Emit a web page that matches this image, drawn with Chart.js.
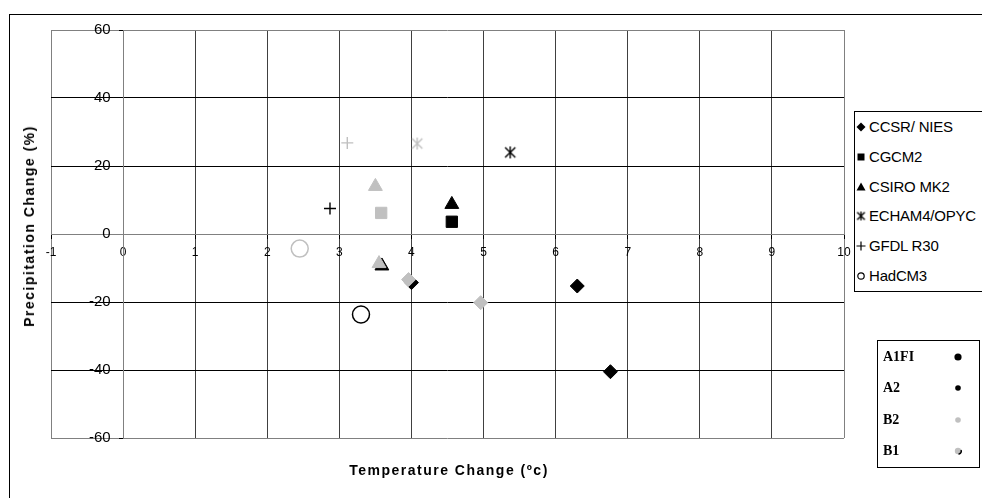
<!DOCTYPE html>
<html>
<head>
<meta charset="utf-8">
<script src="https://cdn.jsdelivr.net/npm/chart.js@4.4.1/dist/chart.umd.min.js"></script>
<style>
  html, body { margin: 0; padding: 0; background: #fff; }
  #wrap { position: relative; width: 982px; height: 498px; overflow: hidden; font-family: 'Liberation Sans', Arial, sans-serif; color: #000; }
  #frame { position: absolute; left: 9px; top: 14px; width: 1100px; height: 600px; border: 1px solid #000; }
  #chart { position: absolute; left: 0; top: 0; }
  #ytitle { position: absolute; left: 29px; top: 226px; transform: translate(-50%, -50%) rotate(-90deg); font-weight: bold; font-size: 14px; letter-spacing: 1.5px; white-space: nowrap; }
  #xtitle { position: absolute; left: 449px; top: 470px; transform: translate(-50%, -50%); font-weight: bold; font-size: 14px; letter-spacing: 1.5px; white-space: nowrap; }
  .box { position: absolute; border: 1px solid #000; background: #fff; }
  #models { left: 854px; top: 111px; width: 200px; height: 179px; }
  #scenarios { left: 877px; top: 340px; width: 101px; height: 126px; }
  .row { position: absolute; height: 18px; line-height: 18px; white-space: nowrap; }
  .row canvas { position: absolute; top: 0; }
  #models .row { font-size: 15px; letter-spacing: -0.2px; }
  #scenarios .row { font-family: 'Liberation Serif', 'Times New Roman', serif; font-size: 14px; font-weight: bold; }
</style>
</head>
<body>
<div id="wrap">
  <div id="frame"></div>
  <canvas id="chart" width="982" height="498"></canvas>
  <div id="ytitle">Precipitation Change (%)</div>
  <div id="xtitle">Temperature Change (ºc)</div>
  <div class="box" id="models"></div>
  <div class="box" id="scenarios"></div>
</div>
<script>
// axis ranges and steps
const xRange = [-1, 10];
const yRange = [-60, 60];
const xStep = 1;
const yStep = 20;

const models = ['CCSR/ NIES', 'CGCM2', 'CSIRO MK2', 'ECHAM4/OPYC', 'GFDL R30', 'HadCM3'];
const scenarios = ['A1FI', 'A2', 'B2', 'B1'];

// [temperature change, precipitation change]
// black = high emission runs, grey = low emission runs
const ccsrDark = [[6.30, -15.3], [6.76, -40.5], [4.00, -14.3]];
const ccsrLight = [[3.96, -13.4], [4.96, -20.2]];
const cgcmDark = [[4.56, 3.6]];
const cgcmLight = [[3.58, 6.2]];
const csiroDark = [[4.56, 8.7], [3.59, -9.4]];
const csiroLight = [[3.50, 14.0], [3.55, -8.7]];
const echamDark = [[5.37, 24.0]];
const echamLight = [[4.08, 26.6]];
const gfdlDark = [[2.87, 7.5]];
const gfdlLight = [[3.11, 26.8]];
const hadDark = [[3.30, -23.7]];
const hadLight = [[2.45, -4.3]];

const DARK = '#000000';
const LIGHT = '#c0c0c0';

function makeStar(color, size, lw) {
  const cv = document.createElement('canvas');
  cv.width = size;
  cv.height = size;
  const ctx = cv.getContext('2d');
  const m = size / 2;
  const r = size / 2 - 1;
  ctx.strokeStyle = color;
  ctx.lineWidth = lw;
  ctx.beginPath();
  ctx.moveTo(m - r * 0.85, m - r * 0.85);
  ctx.lineTo(m + r * 0.85, m + r * 0.85);
  ctx.moveTo(m + r * 0.85, m - r * 0.85);
  ctx.lineTo(m - r * 0.85, m + r * 0.85);
  ctx.moveTo(m, m - r);
  ctx.lineTo(m, m + r);
  ctx.stroke();
  return cv;
}

// marker look per model
const markers = [
  { style: 'rectRot', radius: 7, fill: true, width: 1 },
  { style: 'rect', radius: 8, fill: true, width: 1 },
  { style: 'triangle', radius: 8, fill: true, width: 1 },
  { style: 'star', radius: 7, fill: false, width: 1.4 },
  { style: 'cross', radius: 6, fill: false, width: 1.4 },
  { style: 'circle', radius: 8.5, fill: false, width: 1.5 },
];

const darkSets = [ccsrDark, cgcmDark, csiroDark, echamDark, gfdlDark, hadDark];
const lightSets = [ccsrLight, cgcmLight, csiroLight, echamLight, gfdlLight, hadLight];

function buildDataset(points, i, color) {
  const m = markers[i];
  const pointStyle = m.style === 'star' ? makeStar(color, 14, m.width) : m.style;
  return {
    label: models[i],
    data: points.map(p => ({ x: p[0], y: p[1] })),
    pointStyle,
    pointRadius: m.radius,
    pointBorderWidth: m.width,
    pointBackgroundColor: m.fill ? color : 'rgba(0,0,0,0)',
    pointBorderColor: color,
    showLine: false,
  };
}

// Chart.js paints the first dataset last, so grey goes first to sit on top of black
const datasets = [];
lightSets.forEach((pts, i) => datasets.push(buildDataset(pts, i, LIGHT)));
darkSets.forEach((pts, i) => datasets.push(buildDataset(pts, i, DARK)));

function gridColor(ctx, lo, hi, inner) {
  const v = ctx.tick.value;
  if (v === lo || v === hi || v === 0) return '#808080';
  return inner;
}

new Chart(document.getElementById('chart'), {
  type: 'scatter',
  data: { datasets },
  options: {
    responsive: false,
    animation: false,
    layout: { padding: { left: 51, top: 30, right: 138, bottom: 60 } },
    plugins: { legend: { display: false }, tooltip: { enabled: false } },
    scales: {
      x: {
        type: 'linear',
        position: { y: 0 },
        min: xRange[0],
        max: xRange[1],
        ticks: {
          stepSize: xStep,
          color: '#000',
          padding: 7,
          font: { family: "'Liberation Sans Narrow', 'Liberation Sans', Arial", size: 12 },
        },
        grid: { color: ctx => gridColor(ctx, xRange[0], xRange[1], '#404040'), tickLength: 4, tickColor: '#000' },
        border: { color: '#808080', width: 1 },
        afterFit: scale => { scale.height = 0; },
      },
      y: {
        type: 'linear',
        position: { x: 0 },
        min: yRange[0],
        max: yRange[1],
        ticks: {
          stepSize: yStep,
          color: '#000',
          // labels of an axis placed by value sit right on the line, so pad with spaces
          callback: value => `${value}   `,
          font: { family: "'Liberation Sans', Arial", size: 15 },
        },
        grid: { color: ctx => gridColor(ctx, yRange[0], yRange[1], '#000'), tickLength: 4, tickColor: '#000' },
        border: { color: '#808080', width: 1 },
        afterFit: scale => { scale.width = 0; },
      },
    },
  },
});

// legends
function drawMarker(cv, style, color) {
  const ctx = cv.getContext('2d');
  const c = cv.width / 2;
  ctx.fillStyle = color;
  ctx.strokeStyle = color;
  ctx.lineWidth = 1.2;
  ctx.beginPath();
  if (style === 'rectRot') {
    ctx.moveTo(c, c - 4.5); ctx.lineTo(c + 4.5, c); ctx.lineTo(c, c + 4.5); ctx.lineTo(c - 4.5, c);
    ctx.closePath(); ctx.fill();
  } else if (style === 'rect') {
    ctx.rect(c - 3.5, c - 3.5, 7, 7); ctx.fill();
  } else if (style === 'triangle') {
    ctx.moveTo(c, c - 4.5); ctx.lineTo(c + 4.5, c + 3.5); ctx.lineTo(c - 4.5, c + 3.5);
    ctx.closePath(); ctx.fill();
  } else if (style === 'star') {
    ctx.drawImage(makeStar(color, 11, 1.3), c - 5.5, c - 5.5);
  } else if (style === 'cross') {
    ctx.moveTo(c - 4.5, c); ctx.lineTo(c + 4.5, c); ctx.moveTo(c, c - 4.5); ctx.lineTo(c, c + 4.5);
    ctx.stroke();
  } else if (style === 'circle') {
    ctx.arc(c, c, 3.2, 0, Math.PI * 2); ctx.stroke();
  }
}

const modelBox = document.getElementById('models');
models.forEach((name, i) => {
  const row = document.createElement('div');
  row.className = 'row';
  row.style.top = (15 + i * 29.8 - 9) + 'px';
  row.style.left = '0px';
  const cv = document.createElement('canvas');
  cv.width = 14;
  cv.height = 14;
  cv.style.left = '-1px';
  cv.style.top = '2px';
  drawMarker(cv, markers[i].style, DARK);
  const label = document.createElement('span');
  label.textContent = name;
  label.style.marginLeft = '14px';
  row.append(cv, label);
  modelBox.append(row);
});

const scenarioDots = [
  { color: DARK, r: 3.6, edge: null },
  { color: DARK, r: 2.8, edge: null },
  { color: LIGHT, r: 2.8, edge: null },
  { color: LIGHT, r: 3.2, edge: DARK },
];
const scenarioBox = document.getElementById('scenarios');
scenarios.forEach((name, i) => {
  const row = document.createElement('div');
  row.className = 'row';
  row.style.top = (16 + i * 31.3 - 9) + 'px';
  row.style.left = '5px';
  row.style.width = '90px';
  const label = document.createElement('span');
  label.textContent = name;
  const cv = document.createElement('canvas');
  cv.width = 12;
  cv.height = 12;
  cv.style.left = '69px';
  cv.style.top = '3px';
  const ctx = cv.getContext('2d');
  const d = scenarioDots[i];
  ctx.fillStyle = d.color;
  ctx.beginPath();
  ctx.arc(6, 6, d.r, 0, Math.PI * 2);
  ctx.fill();
  if (d.edge) {
    ctx.strokeStyle = d.edge;
    ctx.lineWidth = 1.5;
    ctx.beginPath();
    ctx.arc(6, 6, d.r, -0.3, 1.4);
    ctx.stroke();
  }
  row.append(label, cv);
  scenarioBox.append(row);
});
</script>
</body>
</html>
